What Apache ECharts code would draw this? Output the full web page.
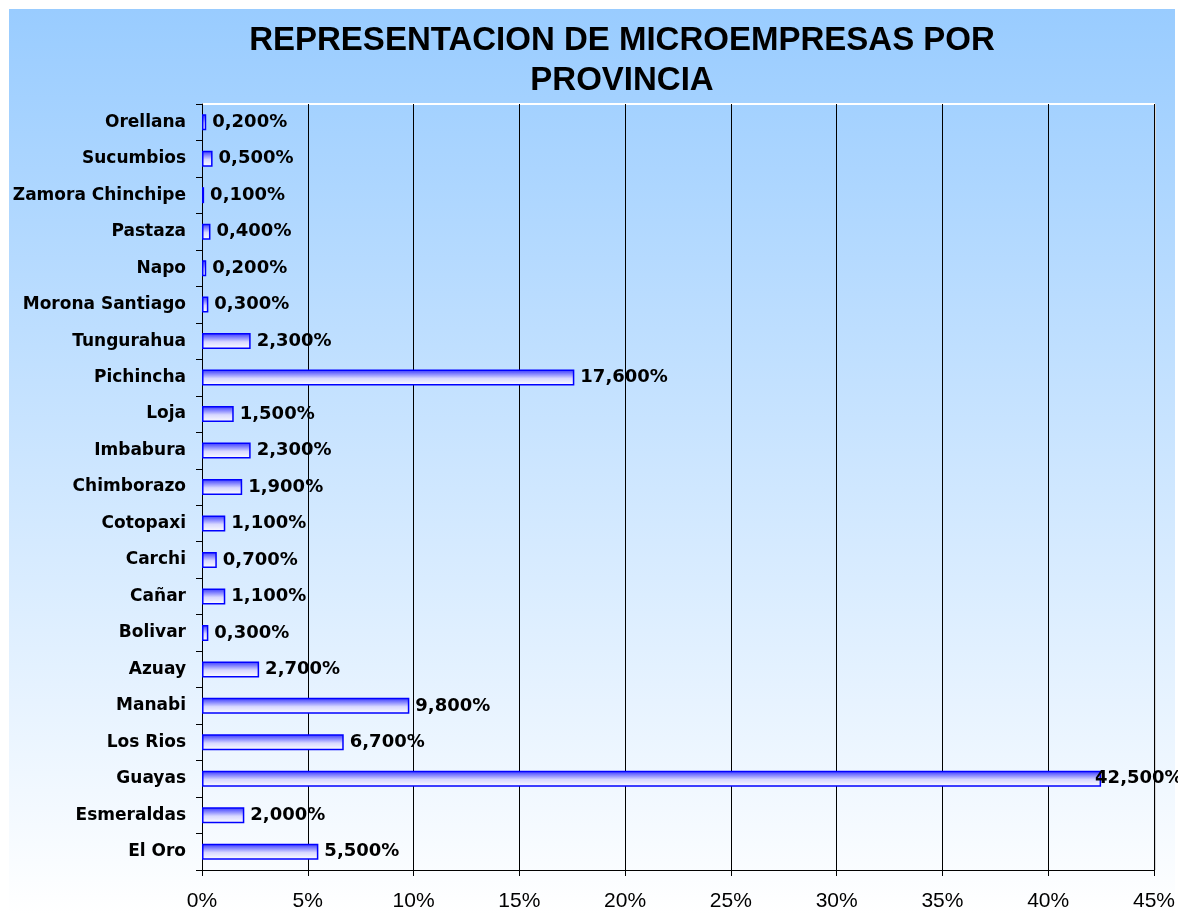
<!DOCTYPE html>
<html><head><meta charset="utf-8">
<script src="https://cdn.jsdelivr.net/npm/echarts@6/dist/echarts.min.js"></script>
<style>html,body{margin:0;padding:0;background:#fff}#c{width:1178px;height:915px}</style>
</head><body><div id="c"></div>
<script>
const categories = ['El Oro','Esmeraldas','Guayas','Los Rios','Manabi','Azuay','Bolivar','Cañar','Carchi','Cotopaxi','Chimborazo','Imbabura','Loja','Pichincha','Tungurahua','Morona Santiago','Napo','Pastaza','Zamora Chinchipe','Sucumbios','Orellana'];
const values = [5.5,2.0,42.5,6.7,9.8,2.7,0.3,1.1,0.7,1.1,1.9,2.3,1.5,17.6,2.3,0.3,0.2,0.4,0.1,0.5,0.2];
const xTicks = [0,5,10,15,20,25,30,35,40,45];
const titleText = 'REPRESENTACION DE MICROEMPRESAS POR\nPROVINCIA';

// labels near the right edge are nudged left so they stay in view (as in the original)
const seriesData = values.map(v => v > 40 ? {value:v, label:{distance:-6}} : v);

const chart = echarts.init(document.getElementById('c'), null, {renderer:'canvas'});
chart.setOption({
  animation:false,
  backgroundColor:'#ffffff',
  graphic:[
    {type:'rect', z:-10, shape:{x:9,y:9,width:1166,height:906},
     style:{fill:new echarts.graphic.LinearGradient(0,0,0,1,[{offset:0,color:'#99CCFF'},{offset:1,color:'#FFFFFF'}])}},
    {type:'line', z:-5, shape:{x1:202,y1:104,x2:1155,y2:104}, style:{stroke:'#ffffff',lineWidth:2}},
    {type:'line', z:-5, shape:{x1:1155,y1:104,x2:1155,y2:870}, style:{stroke:'#d8d8d8',lineWidth:2}}
  ],
  title:{text:titleText,left:617,textAlign:'center',top:16,
    textStyle:{fontFamily:'Liberation Sans, Arial',fontWeight:'bold',fontSize:33,lineHeight:40,color:'#000'}},
  grid:{left:202,right:23,top:104,bottom:45,containLabel:false},
  xAxis:{type:'value',min:0,max:45,interval:5,
    axisLine:{show:true,lineStyle:{color:'#000'}},
    axisTick:{show:true,length:6,lineStyle:{color:'#000'}},
    splitLine:{show:true,lineStyle:{color:'#000',width:1}},
    axisLabel:{margin:21,fontFamily:'Liberation Sans, Arial',fontSize:21,color:'#000',
      formatter:v=>xTicks.includes(v)?v+'%':''}},
  yAxis:{type:'category',data:categories,
    axisLine:{show:true,lineStyle:{color:'#000'}},
    axisTick:{show:true,length:6,inside:false,lineStyle:{color:'#000'}},
    axisLabel:{margin:16,fontFamily:'DejaVu Sans',fontWeight:'bold',fontSize:17,color:'#000'},
    splitLine:{show:false}},
  series:[{type:'bar',data:seriesData,barWidth:16,
    itemStyle:{color:new echarts.graphic.LinearGradient(0,0,0,1,[{offset:0,color:'#3333ff'},{offset:0.55,color:'#d8d8ff'},{offset:1,color:'#ffffff'}]),
      borderColor:'#0000ff',borderWidth:1.5},
    label:{show:true,position:'right',distance:6,fontFamily:'DejaVu Sans',fontWeight:'bold',fontSize:18,color:'#000',
      formatter:p=>p.value.toFixed(3).replace('.',',')+'%'}}]
});
</script></body></html>
